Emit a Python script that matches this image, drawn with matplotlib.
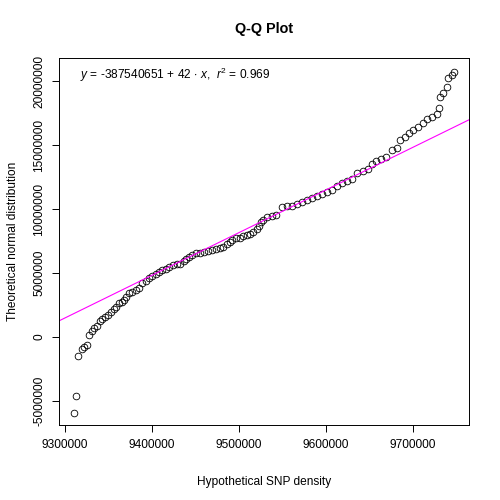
import matplotlib
matplotlib.use('Agg')
import matplotlib.pyplot as plt
from matplotlib.ticker import FuncFormatter
import numpy as np

plt.rcParams['font.family'] = ['Liberation Sans', 'DejaVu Sans']
plt.rcParams['mathtext.fontset'] = 'custom'
plt.rcParams['mathtext.rm'] = 'Liberation Sans'
plt.rcParams['mathtext.it'] = 'Liberation Sans:italic'
plt.rcParams['axes.unicode_minus'] = False

# sorted sample (x) against theoretical quantiles (y)
snp_density = [
    9309800, 9312100, 9315300, 9319000, 9321900, 9325300, 9328000, 9331600, 9333900, 9336800,
    9339900, 9342900, 9346000, 9349800, 9352600, 9356400, 9359000, 9362100, 9365200, 9367900,
    9370200, 9373600, 9377400, 9382000, 9385200, 9388900, 9392900, 9396700, 9400500, 9404400,
    9408200, 9412000, 9415900, 9420000, 9423900, 9428500, 9432300, 9436900, 9439800, 9442700,
    9446700, 9450700, 9455300, 9460500, 9464900, 9469700, 9474300, 9478400, 9482200, 9486100,
    9489300, 9492700, 9496800, 9501400, 9505400, 9509400, 9512900, 9516700, 9520600, 9522700,
    9525000, 9528200, 9532800, 9537900, 9542800, 9549400, 9555100, 9560900, 9566600, 9572400,
    9578100, 9583900, 9589600, 9595400, 9601100, 9606900, 9612600, 9618400, 9624200, 9629900,
    9636400, 9643300, 9649000, 9652900, 9657900, 9663300, 9669400, 9675900, 9681700, 9685500,
    9691200, 9696200, 9700800, 9706500, 9711600, 9716200, 9722000, 9727700, 9730700, 9731500,
    9735300, 9739200, 9741100, 9745000, 9747600,
]
theoretical = [
    -5900000, -4610000, -1460000, -940000, -780000, -660000, 160000, 470000, 700000, 860000,
    1250000, 1380000, 1540000, 1720000, 1950000, 2190000, 2370000, 2620000, 2760000, 2930000,
    3125000, 3400000, 3480000, 3710000, 3850000, 4240000, 4400000, 4590000, 4770000, 4920000,
    5050000, 5200000, 5340000, 5490000, 5600000, 5680000, 5740000, 5940000, 6130000, 6230000,
    6430000, 6530000, 6590000, 6640000, 6730000, 6800000, 6850000, 6930000, 7050000, 7270000,
    7420000, 7600000, 7700000, 7770000, 7870000, 7970000, 8050000, 8230000, 8440000, 8710000,
    8950000, 9180000, 9350000, 9450000, 9570000, 10180000, 10200000, 10230000, 10370000, 10570000,
    10740000, 10880000, 11020000, 11150000, 11350000, 11480000, 11760000, 12010000, 12210000, 12320000,
    12840000, 12990000, 13100000, 13490000, 13770000, 13910000, 14090000, 14610000, 14740000, 15390000,
    15600000, 15910000, 16170000, 16380000, 16740000, 17010000, 17210000, 17420000, 17870000, 18770000,
    19040000, 19510000, 20210000, 20470000, 20730000,
]

# reference line as drawn
line_intercept = -308200000
line_slope = 33.3
fit_label = r'$y$ = -387540651 + 42 $\cdot$ $x$,  $r^2$ = 0.969'

x_ticks = [9300000, 9400000, 9500000, 9600000, 9700000]
y_ticks = [-5000000, 0, 5000000, 10000000, 15000000, 20000000]

fig = plt.figure(figsize=(5, 5), dpi=100)
ax = fig.add_axes([0.118, 0.15, 0.82, 0.734])

ax.plot(snp_density, theoretical, linestyle='none', marker='o', markersize=4.8,
        markerfacecolor='none', markeredgecolor='black', markeredgewidth=0.6)

x0, x1 = 9293100, 9764900
xs = np.array([x0, x1])
ax.plot(xs, line_intercept + line_slope * xs, color='#FF00FF', linewidth=0.8)

ax.set_xlim(x0, x1)
ax.set_ylim(-6875000, 21800000)
ax.set_xticks(x_ticks)
ax.set_yticks(y_ticks)
fmt = FuncFormatter(lambda v, p: '%d' % v)
ax.xaxis.set_major_formatter(fmt)
ax.yaxis.set_major_formatter(fmt)
ax.tick_params(direction='out', length=5, width=0.7, labelsize=8.6, pad=5)
plt.setp(ax.get_yticklabels(), rotation=90, va='center')
for s in ax.spines.values():
    s.set_linewidth(0.7)

ax.set_xlabel('Hypothetical SNP density', fontsize=8.6, labelpad=18)
ax.set_ylabel('Theoretical normal distribution', fontsize=8.6, labelpad=10)
ax.set_title('Q-Q Plot', fontsize=10.4, fontweight='bold', pad=18)

ax.text(0.051, 0.954, fit_label, transform=ax.transAxes, fontsize=8.6,
        ha='left', va='center')

fig.savefig('out.png', dpi=100)
